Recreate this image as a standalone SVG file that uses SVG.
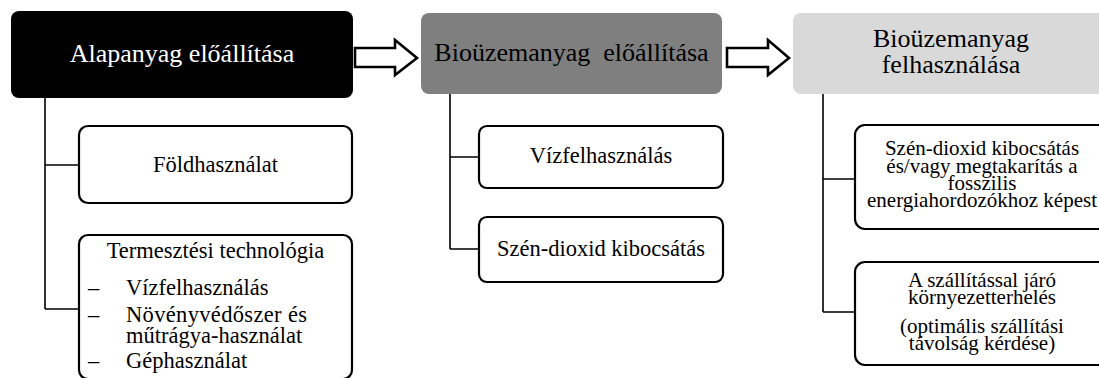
<svg xmlns="http://www.w3.org/2000/svg" width="1099" height="378" viewBox="0 0 1099 378">
  <style>
    text { font-family: "Liberation Serif", "Times New Roman", serif; fill: #000; }
    .head { font-size: 26px; text-anchor: middle; }
    .sub { font-size: 22.5px; text-anchor: middle; }
    .subr { font-size: 21px; text-anchor: middle; }
    .item { font-size: 22.5px; }
    .box { fill: #fff; stroke: #000; stroke-width: 2.2; }
    .conn { fill: none; stroke: #000; stroke-width: 1.6; }
    .arrow { fill: #fff; stroke: #000; stroke-width: 2.6; stroke-linejoin: miter; }
  </style>

  <!-- tree connectors and block arrows -->
  <g id="connectors">
    <path class="conn" d="M45 98 V309 M45 165 H79 M45 309 H79"/>
    <path class="conn" d="M450 94 V249 M450 157 H479 M450 249 H479"/>
    <path class="conn" d="M823 94 V312 M823 179 H855 M823 312 H855"/>
    <path class="arrow" d="M355 48 H395 V40 L417 58 L395 75 V67 H355 Z"/>
    <path class="arrow" d="M727 48 H768 V40 L789 58 L768 75 V67 H727 Z"/>
  </g>

  <!-- stage headers -->
  <g id="stage-feedstock">
    <rect x="11" y="11" width="342" height="87" rx="8" fill="#000"/>
    <text class="head" x="182" y="62" style="fill:#fff">Alapanyag előállítása</text>
  </g>
  <g id="stage-production">
    <rect x="421" y="13" width="301" height="81" rx="8" fill="#7f7f7f"/>
    <text class="head" x="571.5" y="61" xml:space="preserve">Bioüzemanyag  előállítása</text>
  </g>
  <g id="stage-use">
    <rect x="793" y="13" width="320" height="81" rx="8" fill="#d9d9d9"/>
    <text class="head" x="951" y="47">Bioüzemanyag</text>
    <text class="head" x="951" y="73">felhasználása</text>
  </g>

  <!-- feedstock impacts -->
  <g id="land-use">
    <rect class="box" x="79" y="126" width="273" height="77" rx="9"/>
    <text class="sub" x="215.5" y="172">Földhasználat</text>
  </g>
  <g id="cultivation">
    <rect class="box" x="79" y="235" width="273" height="144" rx="9"/>
    <text class="sub" x="215.5" y="258">Termesztési technológia</text>
    <text class="item" x="88" y="295">–</text>
    <text class="item" x="126" y="295">Vízfelhasználás</text>
    <text class="item" x="88" y="322">–</text>
    <text class="item" x="126" y="322" textLength="181" lengthAdjust="spacing">Növényvédőszer és</text>
    <text class="item" x="126" y="343">műtrágya-használat</text>
    <text class="item" x="88" y="368">–</text>
    <text class="item" x="126" y="368">Géphasználat</text>
  </g>

  <!-- production impacts -->
  <g id="water-use">
    <rect class="box" x="479" y="126" width="244" height="62" rx="8"/>
    <text class="sub" x="601" y="163">Vízfelhasználás</text>
  </g>
  <g id="co2-emission">
    <rect class="box" x="479" y="217" width="244" height="65" rx="8"/>
    <text class="sub" x="601" y="256">Szén-dioxid kibocsátás</text>
  </g>

  <!-- use-phase impacts -->
  <g id="co2-balance">
    <rect class="box" x="855" y="125" width="260" height="104" rx="10"/>
    <text class="subr" x="982" y="155">Szén-dioxid kibocsátás</text>
    <text class="subr" x="982" y="172.5">és/vagy megtakarítás a</text>
    <text class="subr" x="982" y="190">fosszilis</text>
    <text class="subr" x="982" y="207">energiahordozókhoz képest</text>
  </g>
  <g id="transport">
    <rect class="box" x="855" y="262" width="260" height="103" rx="10"/>
    <text class="subr" x="982" y="287">A szállítással járó</text>
    <text class="subr" x="982" y="304">környezetterhelés</text>
    <text class="subr" x="982" y="333">(optimális szállítási</text>
    <text class="subr" x="982" y="350">távolság kérdése)</text>
  </g>
</svg>
